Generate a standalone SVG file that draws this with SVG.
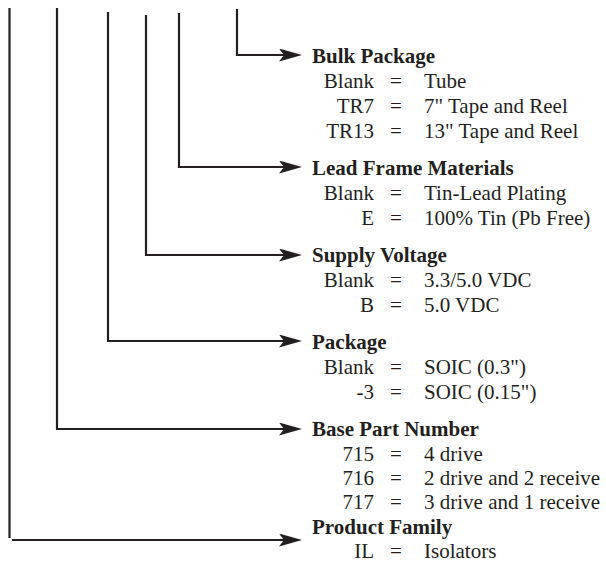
<svg xmlns="http://www.w3.org/2000/svg" width="606" height="563" viewBox="0 0 606 563">
<style>
.ln{fill:none;stroke:#231f20;stroke-width:2.2}
.h{font-family:"Liberation Serif","Times New Roman",serif;font-size:21px;font-weight:bold;fill:#231f20}
.t{font-family:"Liberation Serif","Times New Roman",serif;font-size:21px;fill:#231f20}
.k{text-anchor:end}
.e{text-anchor:middle}
</style>
<defs>
<marker id="ah" markerUnits="userSpaceOnUse" markerWidth="24" markerHeight="14" refX="11" refY="6.5" orient="auto">
<path d="M0,0 L23,6.5 L0,13 L5,6.5 z" fill="#231f20"/>
</marker>
</defs>
<rect width="606" height="563" fill="#fff"/>
<g id="connectors">
<path class="ln" d="M237,9 V55 H290" marker-end="url(#ah)"/>
<path class="ln" d="M179,13 V167 H290" marker-end="url(#ah)"/>
<path class="ln" d="M146,15 V255 H290" marker-end="url(#ah)"/>
<path class="ln" d="M108,12 V341 H290" marker-end="url(#ah)"/>
<path class="ln" d="M57,8 V429 H290" marker-end="url(#ah)"/>
<path class="ln" d="M9.5,8 V538"/>
<path class="ln" d="M12,540 H290" marker-end="url(#ah)"/>
</g>
<g id="bulk-package">
<text class="h" x="312" y="63">Bulk Package</text>
<text class="t k" x="374" y="88">Blank</text><text class="t e" x="396" y="88">=</text><text class="t" x="424" y="88">Tube</text>
<text class="t k" x="374" y="113">TR7</text><text class="t e" x="396" y="113">=</text><text class="t" x="424" y="113">7" Tape and Reel</text>
<text class="t k" x="374" y="138">TR13</text><text class="t e" x="396" y="138">=</text><text class="t" x="424" y="138">13" Tape and Reel</text>
</g>
<g id="lead-frame">
<text class="h" x="312" y="175">Lead Frame Materials</text>
<text class="t k" x="374" y="200">Blank</text><text class="t e" x="396" y="200">=</text><text class="t" x="424" y="200">Tin-Lead Plating</text>
<text class="t k" x="374" y="225">E</text><text class="t e" x="396" y="225">=</text><text class="t" x="424" y="225">100% Tin (Pb Free)</text>
</g>
<g id="supply-voltage">
<text class="h" x="312" y="262">Supply Voltage</text>
<text class="t k" x="374" y="287">Blank</text><text class="t e" x="396" y="287">=</text><text class="t" x="424" y="287">3.3/5.0 VDC</text>
<text class="t k" x="374" y="312">B</text><text class="t e" x="396" y="312">=</text><text class="t" x="424" y="312">5.0 VDC</text>
</g>
<g id="package">
<text class="h" x="312" y="349">Package</text>
<text class="t k" x="374" y="374">Blank</text><text class="t e" x="396" y="374">=</text><text class="t" x="424" y="374">SOIC (0.3")</text>
<text class="t k" x="374" y="399">-3</text><text class="t e" x="396" y="399">=</text><text class="t" x="424" y="399">SOIC (0.15")</text>
</g>
<g id="base-part-number">
<text class="h" x="312" y="436">Base Part Number</text>
<text class="t k" x="374" y="461">715</text><text class="t e" x="396" y="461">=</text><text class="t" x="424" y="461">4 drive</text>
<text class="t k" x="374" y="485">716</text><text class="t e" x="396" y="485">=</text><text class="t" x="424" y="485">2 drive and 2 receive</text>
<text class="t k" x="374" y="509">717</text><text class="t e" x="396" y="509">=</text><text class="t" x="424" y="509">3 drive and 1 receive</text>
</g>
<g id="product-family">
<text class="h" x="312" y="534">Product Family</text>
<text class="t k" x="374" y="558">IL</text><text class="t e" x="396" y="558">=</text><text class="t" x="424" y="558">Isolators</text>
</g>
</svg>
